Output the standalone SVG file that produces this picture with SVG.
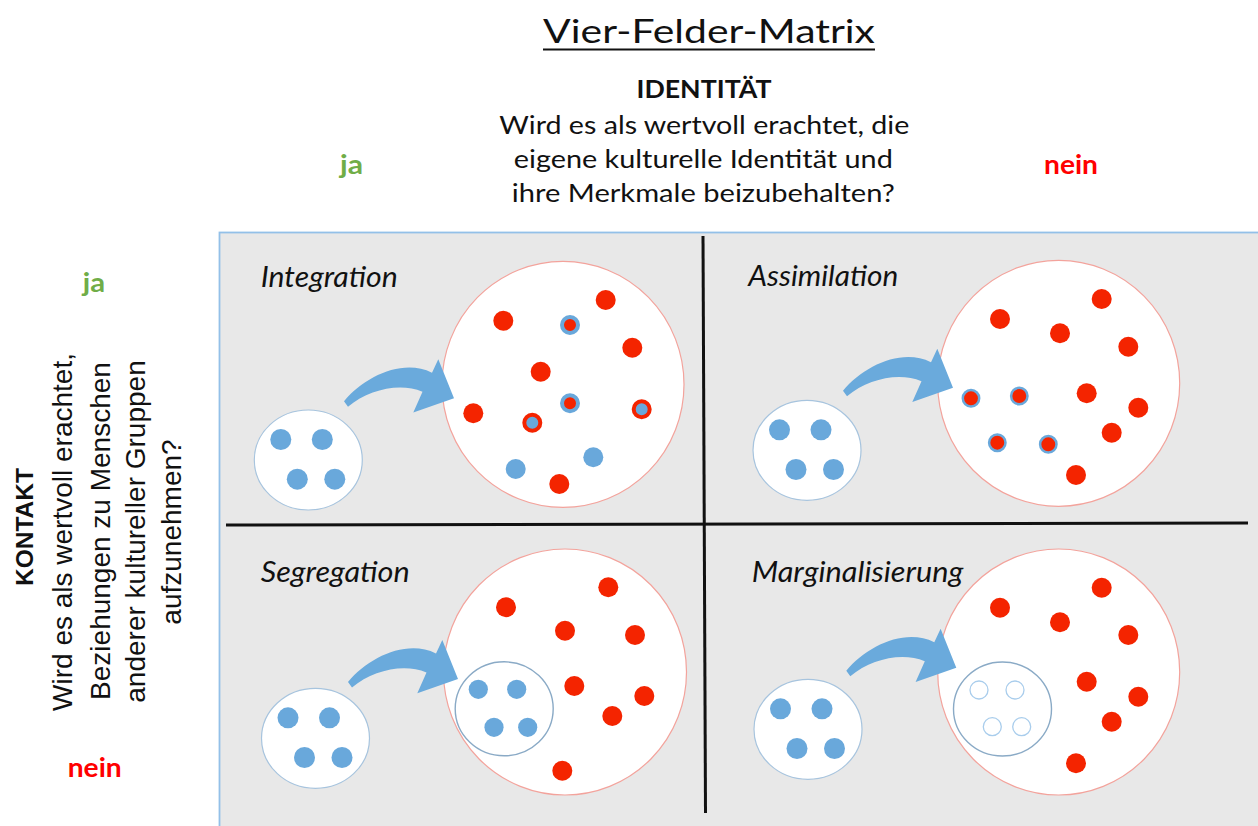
<svg xmlns="http://www.w3.org/2000/svg" xmlns:xlink="http://www.w3.org/1999/xlink" width="1258" height="826" viewBox="0 0 1258 826">
  <style>
    .cal { font-family: Lato, "Open Sans", "Noto Sans", sans-serif; fill: #111; }
    .ari { font-family: "Liberation Sans", Arial, sans-serif; fill: #111; }
    .lbl { font-family: Lato, "Open Sans", sans-serif; font-style: italic; font-size: 28px; fill: #111; }
    .yes { font-family: Lato, sans-serif; fill: #70ad47; font-weight: bold; font-size: 27px; }
    .no { font-family: Lato, sans-serif; fill: #ff0000; font-weight: bold; font-size: 27px; }
    .big { fill: #fff; stroke: #f3a39c; stroke-width: 1.2; }
    .grp { fill: #fff; stroke: #a7c4de; stroke-width: 1.2; }
    .sub { fill: none; stroke: #8aaac6; stroke-width: 1.4; }
    .b { fill: #69a8db; }
    .r { fill: #f42400; }
    .rb { fill: #f42400; stroke: #69a8db; stroke-width: 2.5; }
    .br { fill: #f42400; stroke: #69a8db; stroke-width: 4; }
    .rr { fill: #69a8db; stroke: #f42400; stroke-width: 4; }
    .hol { fill: none; stroke: #a9cdec; stroke-width: 1.3; }
    .arr { fill: #6aaadc; }
    .div { stroke: #111; stroke-width: 3; }
  </style>
  <defs>
    <!-- curved block arrow, origin at its tail -->
    <path id="arrow" class="arr" d="M-1,-2 C20,-27 58,-45 87,-30.5 L93.3,-44 L109,-5 L68.3,9.3 L77.5,-11.5 C55,-21 24,-14 3,3.5 Z"/>
    <!-- small group of four people, origin at its centre -->
    <g id="cluster">
      <ellipse rx="54" ry="50" class="grp"/>
      <circle cx="-27.5" cy="-20.5" r="10.5" class="b"/>
      <circle cx="14" cy="-20.5" r="10.5" class="b"/>
      <circle cx="-11" cy="19.2" r="10.5" class="b"/>
      <circle cx="26.5" cy="19.2" r="10.5" class="b"/>
    </g>
  </defs>

  <rect width="1258" height="826" fill="#fff"/>

  <!-- headings -->
  <g id="title">
    <text class="cal" x="709" y="42.5" text-anchor="middle" font-size="32" textLength="332" lengthAdjust="spacingAndGlyphs">Vier-Felder-Matrix</text>
    <line x1="543" y1="49.5" x2="875" y2="49.5" stroke="#111" stroke-width="2"/>
  </g>
  <g id="identity-axis">
    <text class="cal" x="704" y="97.5" text-anchor="middle" font-size="24.5" font-weight="bold" textLength="135" lengthAdjust="spacingAndGlyphs">IDENTITÄT</text>
    <text class="cal" x="704.3" y="134" text-anchor="middle" font-size="24.5" textLength="410" lengthAdjust="spacingAndGlyphs">Wird es als wertvoll erachtet, die</text>
    <text class="cal" x="703.3" y="168" text-anchor="middle" font-size="24.5" textLength="379" lengthAdjust="spacingAndGlyphs">eigene kulturelle Identität und</text>
    <text class="cal" x="703.3" y="201.5" text-anchor="middle" font-size="24.5" textLength="383" lengthAdjust="spacingAndGlyphs">ihre Merkmale beizubehalten?</text>
    <text class="yes" x="351.5" y="174" text-anchor="middle" textLength="23" lengthAdjust="spacingAndGlyphs">ja</text>
    <text class="no" x="1071" y="174" text-anchor="middle" textLength="54" lengthAdjust="spacingAndGlyphs">nein</text>
  </g>
  <g id="contact-axis">
    <text class="yes" x="94" y="291.7" text-anchor="middle" textLength="22.3" lengthAdjust="spacingAndGlyphs">ja</text>
    <text class="no" x="94.7" y="776.7" text-anchor="middle" textLength="54" lengthAdjust="spacingAndGlyphs">nein</text>
    <text class="ari" transform="translate(33,527) rotate(-90)" text-anchor="middle" font-size="24.5" font-weight="bold">KONTAKT</text>
    <text class="ari" transform="translate(72,532) rotate(-90)" text-anchor="middle" font-size="28">Wird es als wertvoll erachtet,</text>
    <text class="ari" transform="translate(109.5,531) rotate(-90)" text-anchor="middle" font-size="28">Beziehungen zu Menschen</text>
    <text class="ari" transform="translate(145,531.5) rotate(-90)" text-anchor="middle" font-size="28">anderer kultureller Gruppen</text>
    <text class="ari" transform="translate(181,532) rotate(-90)" text-anchor="middle" font-size="28">aufzunehmen?</text>
  </g>

  <!-- matrix field -->
  <g id="matrix">
    <rect x="219.5" y="232.5" width="1045" height="600" fill="#e8e8e8" stroke="#93c0e8" stroke-width="1.8"/>
  </g>
  <g id="dividers">
    <line class="div" x1="703" y1="236" x2="705.5" y2="813"/>
    <line class="div" x1="226" y1="525" x2="1248" y2="523"/>
  </g>

  <!-- Integration -->
  <g id="integration">
    <text class="lbl" x="260.7" y="287" textLength="137" lengthAdjust="spacingAndGlyphs">Integration</text>
    <ellipse class="big" cx="563" cy="384.4" rx="121" ry="123"/>
    <use xlink:href="#cluster" transform="translate(308.3,460)"/>
    <circle class="r" cx="503.3" cy="320.7" r="10"/>
    <circle class="r" cx="605.7" cy="300" r="10"/>
    <circle class="r" cx="632.3" cy="347.7" r="10"/>
    <circle class="r" cx="540.7" cy="371.7" r="10"/>
    <circle class="r" cx="473.3" cy="413.3" r="10"/>
    <circle class="r" cx="559.3" cy="484" r="10"/>
    <circle class="br" cx="570" cy="325" r="8"/>
    <circle class="br" cx="570" cy="403.3" r="8"/>
    <circle class="rr" cx="532.3" cy="422.7" r="8"/>
    <circle class="rr" cx="641.7" cy="409.3" r="8"/>
    <circle class="b" cx="515.7" cy="469" r="10"/>
    <circle class="b" cx="593.3" cy="457.3" r="10"/>
    <use xlink:href="#arrow" transform="translate(345,403.3)"/>
  </g>

  <!-- Assimilation -->
  <g id="assimilation">
    <text class="lbl" x="748.3" y="286" textLength="150" lengthAdjust="spacingAndGlyphs">Assimilation</text>
    <ellipse class="big" cx="1058.7" cy="383.3" rx="121" ry="123"/>
    <use xlink:href="#cluster" transform="translate(807,450.3)"/>
    <circle class="r" cx="1000" cy="319" r="10"/>
    <circle class="r" cx="1101.7" cy="299" r="10"/>
    <circle class="r" cx="1060" cy="333.3" r="10"/>
    <circle class="r" cx="1128.3" cy="346.7" r="10"/>
    <circle class="r" cx="1086.7" cy="393.3" r="10"/>
    <circle class="r" cx="1138.3" cy="407.7" r="10"/>
    <circle class="r" cx="1111.7" cy="432.7" r="10"/>
    <circle class="r" cx="1076" cy="475" r="10"/>
    <circle class="rb" cx="971" cy="398.3" r="8.2"/>
    <circle class="rb" cx="1019.3" cy="396" r="8.2"/>
    <circle class="rb" cx="997.3" cy="442.7" r="8.2"/>
    <circle class="rb" cx="1048.3" cy="444.3" r="8.2"/>
    <use xlink:href="#arrow" transform="translate(844,392.7)"/>
  </g>

  <!-- Segregation -->
  <g id="segregation">
    <text class="lbl" x="260.7" y="581.7" textLength="149" lengthAdjust="spacingAndGlyphs">Segregation</text>
    <ellipse class="big" cx="565" cy="672" rx="121.5" ry="123"/>
    <use xlink:href="#cluster" transform="translate(315.5,738.3)"/>
    <circle class="r" cx="506" cy="607.3" r="10"/>
    <circle class="r" cx="608.3" cy="587.3" r="10"/>
    <circle class="r" cx="565" cy="630.7" r="10"/>
    <circle class="r" cx="635" cy="635" r="10"/>
    <circle class="r" cx="574.3" cy="686" r="10"/>
    <circle class="r" cx="644.3" cy="696" r="10"/>
    <circle class="r" cx="612.3" cy="716" r="10"/>
    <circle class="r" cx="562.3" cy="770.7" r="10"/>
    <ellipse class="sub" cx="504.2" cy="708.8" rx="49" ry="47"/>
    <circle class="b" cx="478.3" cy="689.3" r="9.6"/>
    <circle class="b" cx="516.7" cy="689.3" r="9.6"/>
    <circle class="b" cx="494" cy="727.3" r="9.6"/>
    <circle class="b" cx="527.7" cy="727.3" r="9.6"/>
    <use xlink:href="#arrow" transform="translate(349,684)"/>
  </g>

  <!-- Marginalisierung -->
  <g id="marginalisierung">
    <text class="lbl" x="751.7" y="581.7" textLength="211.7" lengthAdjust="spacingAndGlyphs">Marginalisierung</text>
    <ellipse class="big" cx="1058.7" cy="672" rx="121" ry="123"/>
    <use xlink:href="#cluster" transform="translate(808,729.3)"/>
    <circle class="r" cx="1000" cy="607.7" r="10"/>
    <circle class="r" cx="1101.7" cy="587.7" r="10"/>
    <circle class="r" cx="1060" cy="622.3" r="10"/>
    <circle class="r" cx="1128.3" cy="635" r="10"/>
    <circle class="r" cx="1086.7" cy="681.7" r="10"/>
    <circle class="r" cx="1138.3" cy="696.7" r="10"/>
    <circle class="r" cx="1111.7" cy="721.7" r="10"/>
    <circle class="r" cx="1076" cy="763.3" r="10"/>
    <ellipse class="sub" cx="1002.5" cy="709" rx="49" ry="47"/>
    <circle class="hol" cx="979" cy="690" r="9"/>
    <circle class="hol" cx="1015" cy="690" r="9"/>
    <circle class="hol" cx="992.3" cy="726.7" r="9"/>
    <circle class="hol" cx="1021.7" cy="726.7" r="9"/>
    <use xlink:href="#arrow" transform="translate(847.3,672.7)"/>
  </g>
</svg>
